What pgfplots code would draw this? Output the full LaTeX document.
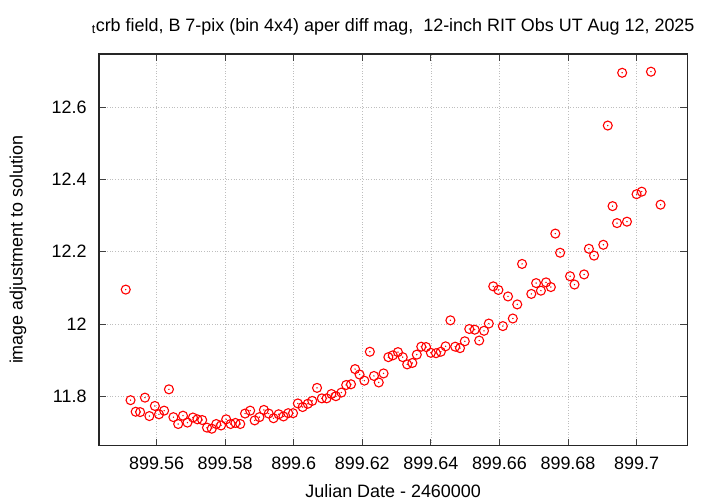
\documentclass[border=0pt]{standalone}
\usepackage{pgfplots}
\pgfplotsset{compat=1.18}
\usepackage{pgfplotstable}
\usepackage{fontspec}
\setmainfont{Liberation Sans}
\definecolor{gpred}{RGB}{255,0,0}
\definecolor{gpgrid}{RGB}{190,190,190}

% Julian date - 2460000, image adjustment
\pgfplotstableread{
jd v
899.5510 12.095
899.5524 11.789
899.5539 11.757
899.5552 11.756
899.5566 11.796
899.5579 11.745
899.5595 11.773
899.5607 11.750
899.5622 11.760
899.5636 11.819
899.5649 11.742
899.5663 11.723
899.5677 11.746
899.5690 11.727
899.5706 11.741
899.5719 11.736
899.5733 11.734
899.5747 11.713
899.5761 11.710
899.5774 11.723
899.5788 11.719
899.5803 11.736
899.5816 11.723
899.5830 11.726
899.5844 11.723
899.5858 11.752
899.5873 11.760
899.5886 11.733
899.5900 11.742
899.5913 11.762
899.5927 11.752
899.5941 11.739
899.5956 11.750
899.5970 11.744
899.5984 11.753
899.5998 11.753
899.6012 11.780
899.6026 11.770
899.6041 11.779
899.6054 11.787
899.6068 11.823
899.6082 11.794
899.6096 11.794
899.6110 11.806
899.6123 11.800
899.6139 11.810
899.6153 11.831
899.6167 11.833
899.6179 11.875
899.6192 11.860
899.6206 11.843
899.6222 11.923
899.6234 11.856
899.6248 11.838
899.6262 11.863
899.6276 11.908
899.6289 11.913
899.6304 11.922
899.6318 11.908
899.6331 11.888
899.6346 11.892
899.6359 11.915
899.6372 11.937
899.6386 11.936
899.6400 11.920
899.6415 11.919
899.6429 11.923
899.6443 11.938
899.6457 12.010
899.6471 11.937
899.6485 11.933
899.6499 11.952
899.6512 11.986
899.6528 11.984
899.6541 11.954
899.6555 11.981
899.6569 12.001
899.6582 12.104
899.6597 12.094
899.6610 11.994
899.6625 12.076
899.6639 12.015
899.6652 12.054
899.6666 12.166
899.6693 12.083
899.6707 12.113
899.6721 12.092
899.6736 12.115
899.6750 12.102
899.6763 12.250
899.6777 12.197
899.6806 12.132
899.6819 12.109
899.6847 12.137
899.6861 12.208
899.6876 12.189
899.6903 12.219
899.6916 12.549
899.6930 12.326
899.6943 12.279
899.6958 12.695
899.6972 12.283
899.7000 12.359
899.7015 12.366
899.7042 12.698
899.7070 12.330
}\datatable

\begin{document}
\begin{tikzpicture}
\begin{axis}[
    scale only axis,
    width=588.3bp, height=391.7bp,
    xmin=899.5432, xmax=899.7148,
    ymin=11.663, ymax=12.747,
    xtick={899.56,899.58,899.6,899.62,899.64,899.66,899.68,899.7},
    xticklabels={899.56,899.58,899.6,899.62,899.64,899.66,899.68,899.7},
    ytick={11.8,12,12.2,12.4,12.6},
    yticklabels={11.8,12,12.2,12.4,12.6},
    scaled x ticks=false, scaled y ticks=false,
    tick align=inside,
    major tick length=7bp,
    tick style={black!75, line width=0.8bp},
    axis line style={black!85, line width=1.3bp},
    grid=major,
    grid style={gpgrid, line width=0.7bp, dotted},
    ticklabel style={font=\fontsize{18}{21}\selectfont},
    xticklabel style={yshift=-7.5bp},
    yticklabel style={xshift=-9bp},
    title={\textsubscript{t}crb field, B 7-pix (bin 4x4) aper diff mag,\ \ 12-inch RIT Obs UT Aug 12, 2025},
    title style={font=\fontsize{18}{21}\selectfont, at={(0.5,1)}, anchor=base, yshift=17bp},
    xlabel={Julian Date - 2460000},
    ylabel={image adjustment to solution},
    label style={font=\fontsize{18}{21}\selectfont},
    xlabel style={at={(0.5,0)}, anchor=base, yshift=-52bp},
    ylabel style={at={(-0.1377,0.5)}, anchor=center},
    clip=false,
]
\addplot[only marks, mark=o, mark size=4.5bp, mark options={gpred, line width=1.1bp}] table[x=jd, y=v] {\datatable};
\addplot[only marks, mark=*, mark size=0.45bp, mark options={gpred}] table[x=jd, y=v] {\datatable};
\end{axis}
\pgfresetboundingbox
\path[use as bounding box] (-99bp,-58.3bp) rectangle (621bp,445.7bp);
\end{tikzpicture}
\end{document}
